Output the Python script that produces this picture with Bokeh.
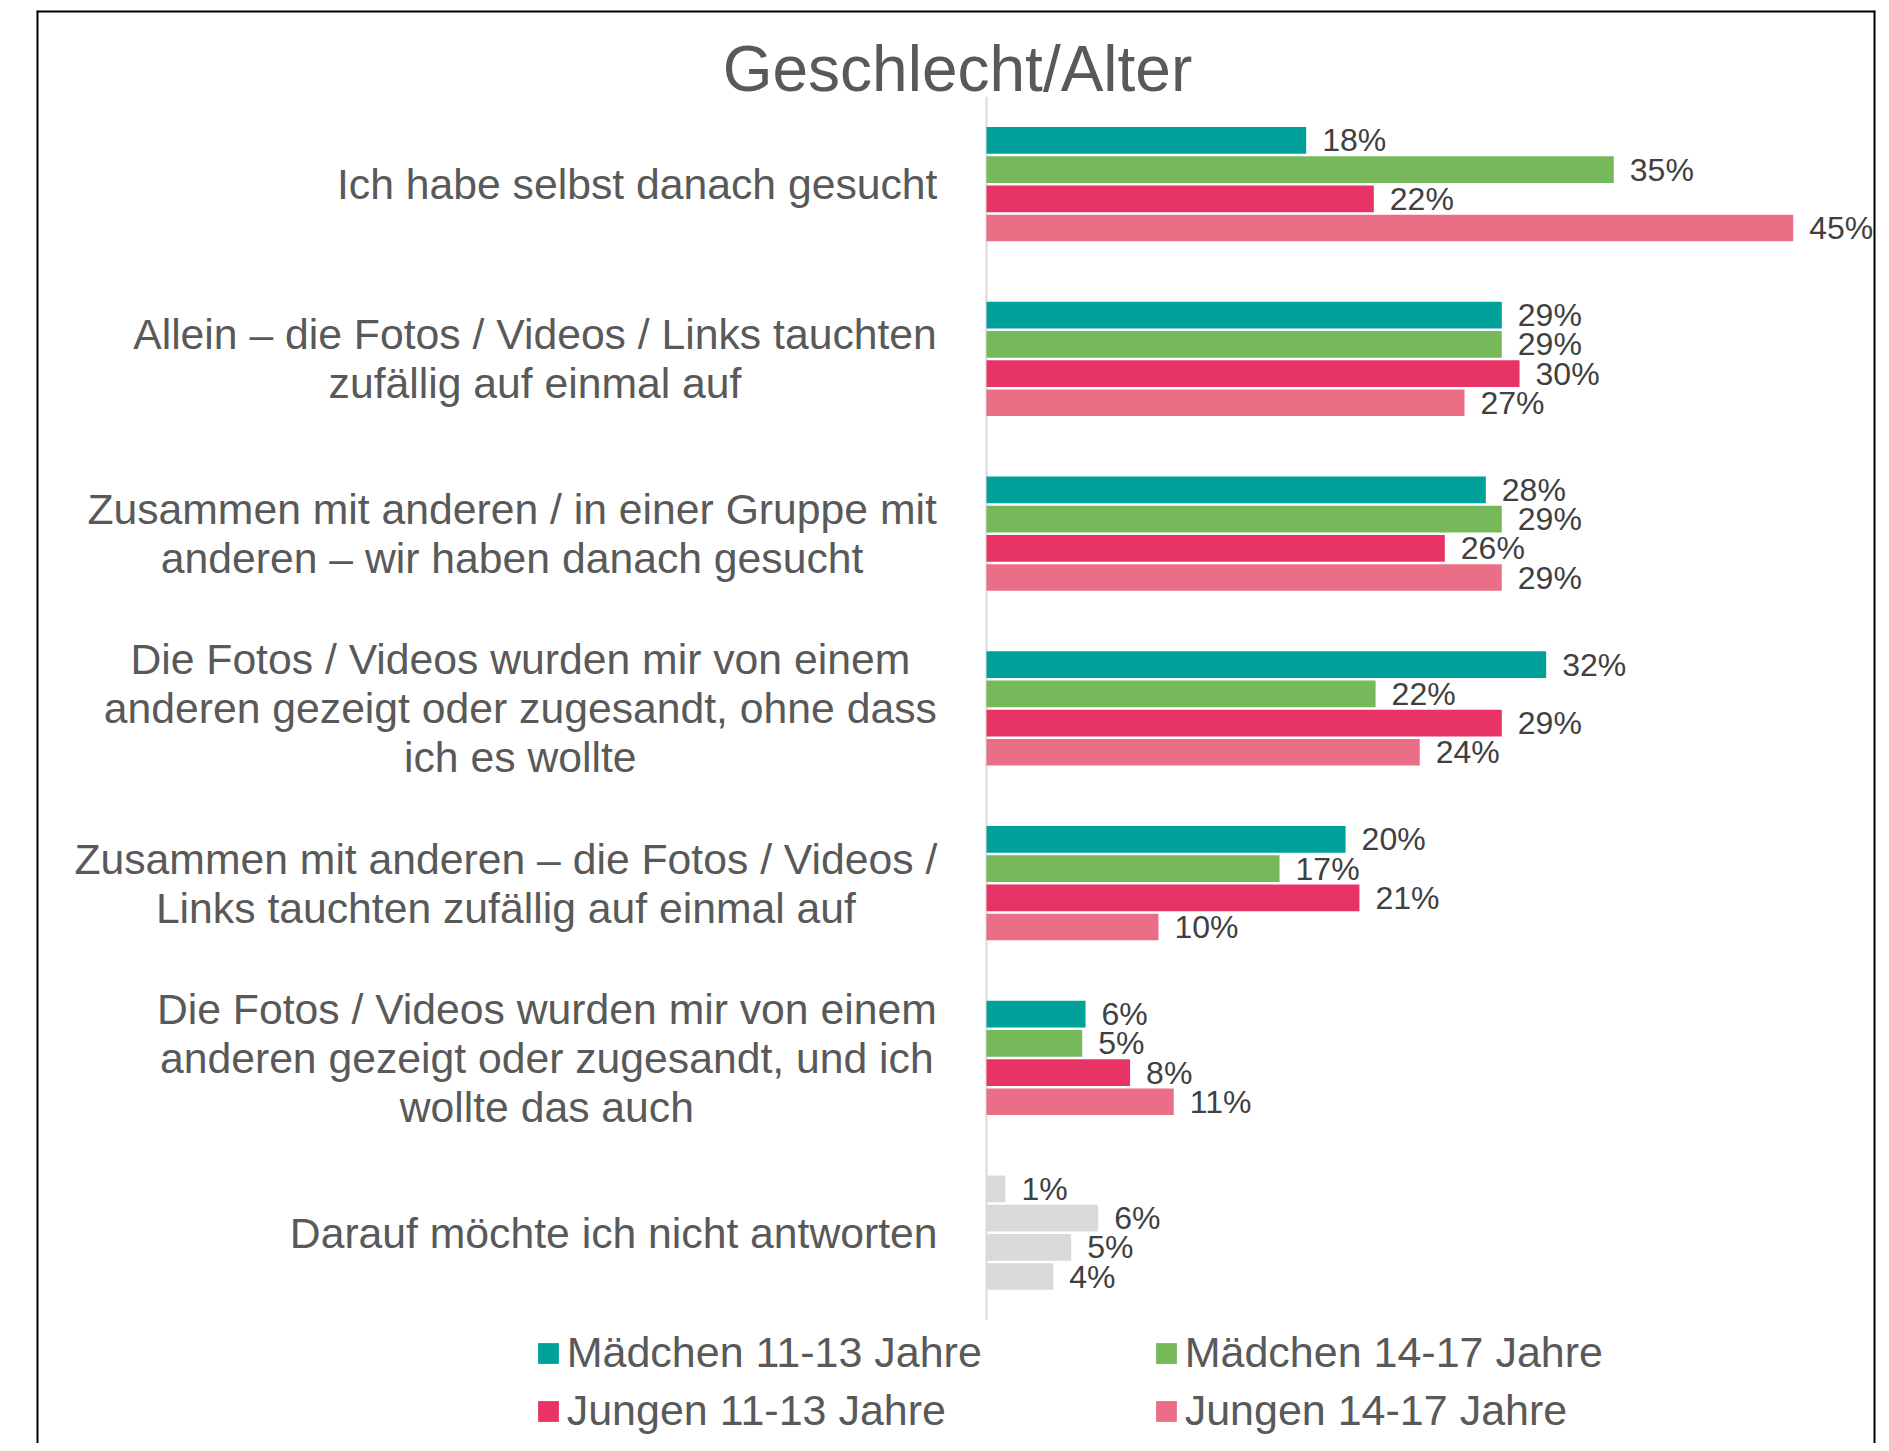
from bokeh.plotting import figure
from bokeh.models import ColumnDataSource, Range1d, Legend, LegendItem, Span
from bokeh.core.properties import value
from bokeh.embed import file_html
from bokeh.resources import INLINE

# ---------------- data ----------------
title_text = "Geschlecht/Alter"
categories = [
    "Ich habe selbst danach gesucht",
    "Allein – die Fotos / Videos / Links tauchten\nzufällig auf einmal auf",
    "Zusammen mit anderen / in einer Gruppe mit\nanderen – wir haben danach gesucht",
    "Die Fotos / Videos wurden mir von einem\nanderen gezeigt oder zugesandt, ohne dass\nich es wollte",
    "Zusammen mit anderen – die Fotos / Videos /\nLinks tauchten zufällig auf einmal auf",
    "Die Fotos / Videos wurden mir von einem\nanderen gezeigt oder zugesandt, und ich\nwollte das auch",
    "Darauf möchte ich nicht antworten",
]
series_names = ["Mädchen 11-13 Jahre", "Mädchen 14-17 Jahre",
                "Jungen 11-13 Jahre", "Jungen 14-17 Jahre"]
girls_11_13 = [18.01, 29.03, 28.13, 31.53, 20.23, 5.58, 1.07]
girls_14_17 = [35.34, 29.03, 29.03, 21.92, 16.51, 5.39, 6.29]
boys_11_13 = [21.82, 30.03, 25.82, 29.03, 21.01, 8.09, 4.77]
boys_14_17 = [45.45, 26.93, 29.03, 24.41, 9.69, 10.55, 3.76]
series_values = [girls_11_13, girls_14_17, boys_11_13, boys_14_17]
no_answer_category = "Darauf möchte ich nicht antworten"

# ---------------- styles / layout ----------------
series_colors = ["#00A19A", "#75B95B", "#E73366", "#EB6E87"]
no_answer_color = "#D9D9D9"
FONT = "Liberation Sans"
LABEL_COLOR = "#595959"
VALUE_COLOR = "#404040"

W, H = 1881, 1443
FRAME_L, FRAME_R, FRAME_T, FRAME_B = 36, 6, 10, 0
PAGE_X0, PAGE_Y0 = FRAME_L, FRAME_T      # page position of frame origin
ZERO_PAGE_X = 986.0
PX_PER_PCT = 17.75
FIRST_CAT_PAGE_Y = 183.7
CAT_PX = 174.75
BAR_PITCH = 29.2 / CAT_PX
BAR_HEIGHT = 26.7 / CAT_PX

frame_w = W - FRAME_L - FRAME_R
frame_h = H - FRAME_T - FRAME_B


def px_to_x(page_x):
    return (page_x - ZERO_PAGE_X) / PX_PER_PCT


def py_to_y(page_y):
    return (page_y - FIRST_CAT_PAGE_Y) / CAT_PX


x_range = Range1d(px_to_x(PAGE_X0), px_to_x(PAGE_X0 + frame_w))
y_range = Range1d(py_to_y(PAGE_Y0 + frame_h), py_to_y(PAGE_Y0))

p = figure(width=W, height=H, x_range=x_range, y_range=y_range,
           output_backend="svg", toolbar_location=None,
           x_axis_location=None, y_axis_location=None,
           min_border_left=FRAME_L, min_border_right=FRAME_R,
           min_border_top=FRAME_T, min_border_bottom=FRAME_B)
p.grid.visible = False
p.outline_line_color = None
p.background_fill_color = "white"
p.border_fill_color = "white"

# chart border: left, right and top (the bottom edge lies below the picture)
for loc, dim in [(x_range.start, "height"), (x_range.end, "height"), (y_range.end, "width")]:
    p.add_layout(Span(location=loc, dimension=dim, line_color="black", line_width=4))

n = len(categories)

# value axis line at 0
p.segment(x0=[0], y0=[-0.5], x1=[0], y1=[n - 0.5], line_color="#D9D9D9", line_width=2)

renderers = []
lab_x, lab_y, lab_t = [], [], []
for j, (name, vals, col) in enumerate(zip(series_names, series_values, series_colors)):
    ys = [i + (j - 1.5) * BAR_PITCH for i in range(n)]
    cols = [no_answer_color if categories[i] == no_answer_category else col for i in range(n)]
    src = ColumnDataSource(dict(y=ys, right=vals, color=cols))
    r = p.hbar(y="y", left=0, right="right", height=BAR_HEIGHT, fill_color="color",
               line_color=None, source=src)
    renderers.append(r)
    lab_x += vals
    lab_y += ys
    lab_t += [f"{round(v)}%" for v in vals]

vsrc = ColumnDataSource(dict(x=lab_x, y=lab_y, t=lab_t))
p.text(x="x", y="y", text="t", source=vsrc, x_offset=16, text_align="left",
       text_baseline="middle", text_font=value(FONT), text_font_size="32px",
       text_color=VALUE_COLOR)

# category labels (centered lines, block right edge near the axis)
label_center_page_x = [636.7, 534.5, 511.6, 519.8, 505.4, 546.3, 613.2]
csrc = ColumnDataSource(dict(x=[px_to_x(c) for c in label_center_page_x],
                             y=list(range(n)), t=categories))
p.text(x="x", y="y", text="t", source=csrc, text_align="center",
       text_baseline="middle", text_font=value(FONT), text_font_size="42.7px",
       text_color=LABEL_COLOR, text_line_height=1.02)

# title
p.text(x=[px_to_x(957)], y=[py_to_y(68)], text=[title_text], text_align="center",
       text_baseline="middle", text_font=value(FONT), text_font_size="64px",
       text_color=LABEL_COLOR)

items = [LegendItem(label=nm, renderers=[r], index=0) for nm, r in zip(series_names, renderers)]
legend = Legend(items=items, location=(534.7 - PAGE_X0, 8), orientation="horizontal", ncols=2,
                glyph_width=26, glyph_height=26, label_standoff=6, label_width=577,
                spacing=9, padding=0, margin=0, border_line_color=None,
                background_fill_alpha=0, label_text_font=FONT,
                label_text_font_size="43px", label_text_color=LABEL_COLOR)
p.add_layout(legend)

open("out.html", "w").write(file_html(p, INLINE))
